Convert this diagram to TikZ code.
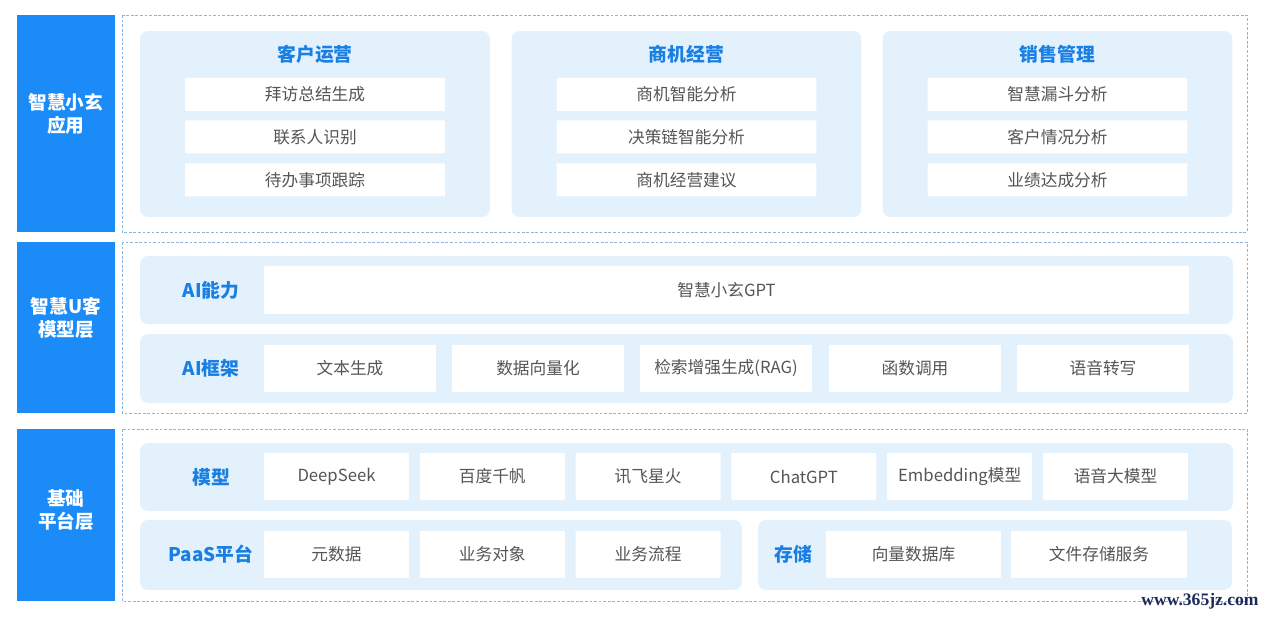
\documentclass[tikz,border=0pt]{standalone}
\usepackage{fontspec}
\setmainfont{Noto Sans CJK SC}
\newfontfamily\markfont{Liberation Serif}
\definecolor{barblue}{HTML}{1B8BF7}
\definecolor{headblue}{HTML}{1A7FE3}
\definecolor{panelfill}{HTML}{E3F1FD}
\definecolor{framecol}{HTML}{8FB3DB}
\definecolor{itemtext}{HTML}{555555}
\definecolor{markcol}{HTML}{1C2B5C}
\begin{document}
\begin{tikzpicture}
  [x=0.02cm,y=-0.02cm,
   bar/.style={fill=barblue,minimum width=1.96cm,inner sep=0pt},
   bartext/.style={text=white,font=\bfseries\fontsize{10.6}{13}\selectfont,align=center,inner sep=0pt},
   frame/.style={draw=framecol,dash pattern=on 1.6pt off 1pt,line width=0.5pt},
   panel/.style={fill=panelfill,rounded corners=4.5pt,inner sep=0pt},
   head/.style={text=headblue,font=\bfseries\fontsize{10.7}{13}\selectfont,inner sep=0pt},
   item/.style={fill=white,text=itemtext,font=\fontsize{9.5}{11}\selectfont,rounded corners=0.5pt,inner sep=0pt}]
  \useasboundingbox (0,0) rectangle (1265,617);
  % layer bars
  \node (bar1)[bar,minimum height=4.34cm] at (66,123.5) {};
  \node (bar2)[bar,minimum height=3.42cm] at (66,327.5) {};
  \node (bar3)[bar,minimum height=3.44cm] at (66,515) {};
  \node (bar1-t)[bartext] at (66,114) {智慧小玄\\应用};
  \node (bar2-t)[bartext] at (66,318) {智慧U客\\模型层};
  \node (bar3-t)[bartext] at (66,510) {基础\\平台层};
  \draw[frame] (122,15) rectangle (1247,232);
  \draw[frame] (122,242) rectangle (1247,413);
  \draw[frame] (122,429) rectangle (1247,601);
  % top layer
  \foreach \n/\x/\t in {cust/315/客户运营,biz/686.5/商机经营,sale/1057.5/销售管理}
  {
    \node (\n)[panel,minimum width=7cm,minimum height=3.72cm] at (\x,124) {};
    \node (\n-h)[head] at (\x,54) {\t};
  }
  \node (cust1)[item,minimum width=5.2cm,minimum height=0.66cm] at (315,94.5) {拜访总结生成};
  \node (cust2)[item,minimum width=5.2cm,minimum height=0.66cm] at (315,137) {联系人识别};
  \node (cust3)[item,minimum width=5.2cm,minimum height=0.66cm] at (315,180) {待办事项跟踪};
  \node (biz1)[item,minimum width=5.2cm,minimum height=0.66cm] at (686.5,94.5) {商机智能分析};
  \node (biz2)[item,minimum width=5.2cm,minimum height=0.66cm] at (686.5,137) {决策链智能分析};
  \node (biz3)[item,minimum width=5.2cm,minimum height=0.66cm] at (686.5,180) {商机经营建议};
  \node (sale1)[item,minimum width=5.2cm,minimum height=0.66cm] at (1057.5,94.5) {智慧漏斗分析};
  \node (sale2)[item,minimum width=5.2cm,minimum height=0.66cm] at (1057.5,137) {客户情况分析};
  \node (sale3)[item,minimum width=5.2cm,minimum height=0.66cm] at (1057.5,180) {业绩达成分析};
  % model layer
  \node (ability)[panel,minimum width=21.86cm,minimum height=1.36cm] at (686.5,290) {};
  \node (ability-h)[head] at (211,290) {AI能力};
  \node (gpt)[item,minimum width=18.5cm,minimum height=0.96cm] at (726.5,290) {智慧小玄GPT};
  \node (frame)[panel,minimum width=21.86cm,minimum height=1.38cm] at (686.5,368.5) {};
  \node (frame-h)[head] at (211,368.5) {AI框架};
  \foreach \n/\x/\t in {fw1/350/文本生成,fw2/538/数据向量化,fw3/726/检索增强生成(RAG),fw4/915/函数调用,fw5/1103/语音转写}
    \node (\n)[item,minimum width=3.44cm,minimum height=0.94cm] at (\x,368.5) {\t};
  % base layer
  \node (model)[panel,minimum width=21.86cm,minimum height=1.36cm] at (686.5,477) {};
  \node (model-h)[head] at (211,477) {模型};
  \foreach \n/\x/\t in {m1/336.5/DeepSeek,m2/492.3/百度千帆,m3/648.1/讯飞星火,m4/803.9/ChatGPT,m5/959.7/Embedding模型,m6/1115.5/语音大模型}
    \node (\n)[item,minimum width=2.9cm,minimum height=0.94cm] at (\x,476.5) {\t};
  \node (paas)[panel,minimum width=12.04cm,minimum height=1.4cm] at (441,555) {};
  \node (paas-h)[head] at (211,554.5) {PaaS平台};
  \foreach \n/\x/\t in {p1/336.5/元数据,p2/492.3/业务对象,p3/648.1/业务流程}
    \node (\n)[item,minimum width=2.9cm,minimum height=0.94cm] at (\x,554.5) {\t};
  \node (store)[panel,minimum width=9.48cm,minimum height=1.4cm] at (995,555) {};
  \node (store-h)[head] at (793,554.5) {存储};
  \node (s1)[item,minimum width=3.5cm,minimum height=0.94cm] at (913.5,554.5) {向量数据库};
  \node (s2)[item,minimum width=3.52cm,minimum height=0.94cm] at (1099,554.5) {文件存储服务};
  \node (mark)[text=markcol,font=\markfont\bfseries\fontsize{10}{12}\selectfont,inner sep=0pt] at (1200,601) {www.365jz.com};
\end{tikzpicture}
\end{document}
